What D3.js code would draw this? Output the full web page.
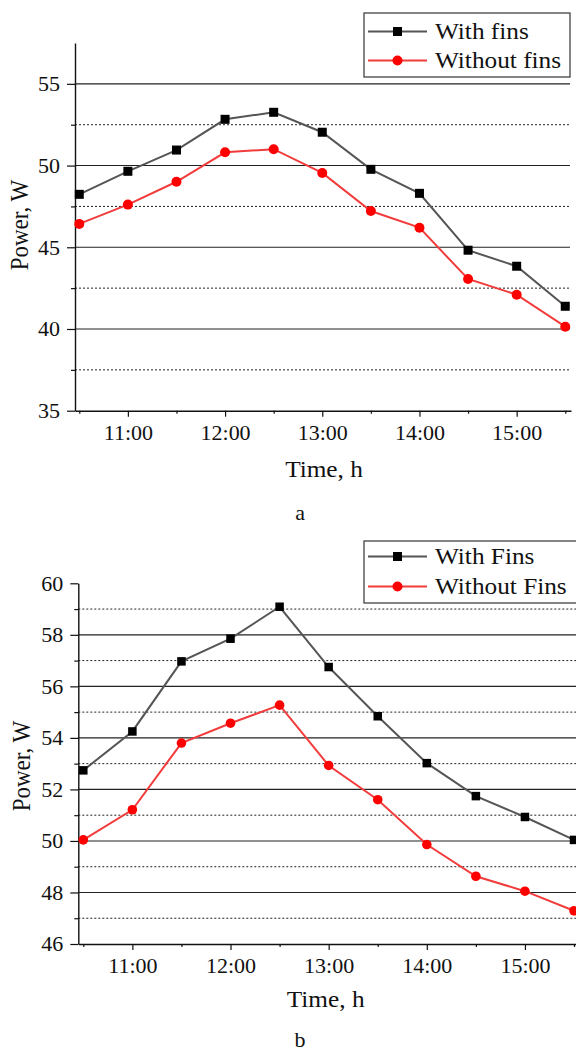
<!DOCTYPE html>
<html><head><meta charset="utf-8">
<script src="https://cdn.jsdelivr.net/npm/d3@7"></script>
<style>
html,body{margin:0;padding:0;background:#fff;}
svg{display:block;}
text{font-family:"Liberation Serif","Times New Roman",serif;fill:#111;}
</style>
</head><body>
<svg id="c" width="576" height="1053" font-family="Liberation Serif, serif"></svg>
<script>
// ---------- data ----------
const times = [10.5, 11, 11.5, 12, 12.5, 13, 13.5, 14, 14.5, 15, 15.5];
const majorTimeTicks = [11, 12, 13, 14, 15];
const minorTimeTicks = [10.5, 11.5, 12.5, 13.5, 14.5, 15.5];

const withFinsA    = [48.24, 49.65, 50.95, 52.83, 53.26, 52.04, 49.77, 48.30, 44.82, 43.84, 41.39];
const withoutFinsA = [46.43, 47.61, 49.01, 50.81, 51.00, 49.55, 47.22, 46.20, 43.06, 42.10, 40.14];
const withFinsB    = [52.74, 54.25, 56.97, 57.85, 59.09, 56.75, 54.84, 53.02, 51.74, 50.93, 50.04];
const withoutFinsB = [50.04, 51.21, 53.80, 54.57, 55.27, 52.93, 51.60, 49.86, 48.63, 48.05, 47.29];

const yMajorA = [35, 40, 45, 50, 55];
const yMinorA = [37.5, 42.5, 47.5, 52.5];
const yMajorB = [46, 48, 50, 52, 54, 56, 58, 60];
const yMinorB = [47, 49, 51, 53, 55, 57, 59];

const legendA = ["With fins", "Without fins"];
const legendB = ["With Fins", "Without Fins"];
const panelLabels = ["a", "b"];
const xTitle = "Time, h";
const yTitle = "Power, W";

// ---------- layout ----------
const SX = 1.1; // horizontal text stretch of the source picture
const FONT = "Liberation Serif, Times New Roman, serif";
const svg = d3.select("#c");

const panels = [
  {
    w: withFinsA, wo: withoutFinsA, legend: legendA, label: panelLabels[0],
    yMajor: yMajorA, yMinor: yMinorA,
    x: d3.scaleLinear().domain([10.456, 15.559]).range([75, 571]),
    y: d3.scaleLinear().domain([35, 57.5]).range([410.7, 43]),
    gridRight: 570,
    sq: 9, r: 5,
    legendBox: [364, 13, 206, 64], legendRows: [31.5, 60.5],
    yTitlePos: [28, 225], xTitleY: 477, labelY: 520, tickLabelY: 29
  },
  {
    w: withFinsB, wo: withoutFinsB, legend: legendB, label: panelLabels[1],
    yMajor: yMajorB, yMinor: yMinorB,
    x: d3.scaleLinear().domain([10.449, 15.561]).range([78.3, 580]),
    y: d3.scaleLinear().domain([46, 60]).range([944, 583.3]),
    gridRight: 580,
    sq: 8.5, r: 4.8,
    legendBox: [364, 541, 220, 62], legendRows: [556.5, 586.5],
    yTitlePos: [30, 766], xTitleY: 1007, labelY: 1047, tickLabelY: 29
  }
];

function stretch(sel, sx) {
  sel.each(function() {
    const t = d3.select(this);
    const x = +t.attr("x") || 0;
    t.attr("x", x / sx).attr("transform", `scale(${sx},1)`);
  });
}

panels.forEach(p => {
  const g = svg.append("g");
  const x = p.x, y = p.y;
  const [x0] = x.range();

  // grid lines
  g.append("g").selectAll("line").data(p.yMajor.filter(v => v !== y.domain()[0] && v !== y.domain()[1]))
    .join("line")
    .attr("x1", x0).attr("x2", p.gridRight)
    .attr("y1", d => y(d)).attr("y2", d => y(d))
    .attr("stroke", "#222").attr("stroke-width", 1.1);
  g.append("g").selectAll("line").data(p.yMinor)
    .join("line")
    .attr("x1", x0).attr("x2", p.gridRight)
    .attr("y1", d => y(d)).attr("y2", d => y(d))
    .attr("stroke", "#222").attr("stroke-width", 1).attr("stroke-dasharray", "2,2");

  // axes
  const xAxis = g.append("g").attr("transform", `translate(0,${y.range()[0]})`)
    .call(d3.axisBottom(x).tickValues(majorTimeTicks).tickSize(6).tickSizeOuter(0)
      .tickFormat(d => d + ":00"));
  g.append("g").attr("transform", `translate(0,${y.range()[0]})`)
    .call(d3.axisBottom(x).tickValues(minorTimeTicks).tickSize(3).tickFormat(""))
    .call(s => s.select(".domain").remove());
  const yAxis = g.append("g").attr("transform", `translate(${x0},0)`)
    .call(d3.axisLeft(y).tickValues(p.yMajor).tickSize(8).tickSizeOuter(0));
  g.append("g").attr("transform", `translate(${x0},0)`)
    .call(d3.axisLeft(y).tickValues(p.yMinor).tickSize(4).tickFormat(""))
    .call(s => s.select(".domain").remove());

  [xAxis, yAxis].forEach(a => a.attr("font-family", FONT).attr("font-size", 20));
  g.selectAll(".domain").attr("stroke", "#111").attr("stroke-width", 1.4);
  g.selectAll(".tick line").attr("stroke", "#111").attr("stroke-width", 1.2);
  g.selectAll(".tick text").attr("fill", "#111").attr("font-family", FONT);

  xAxis.selectAll("text").attr("font-size", 20).attr("y", p.tickLabelY).attr("dy", null);
  stretch(xAxis.selectAll("text"), SX);
  yAxis.selectAll("text").attr("font-size", 20).attr("x", -15).attr("dy", "0.34em");
  stretch(yAxis.selectAll("text"), SX);

  // series
  const line = d3.line().x((d, i) => x(times[i])).y(d => y(d));
  g.append("path").datum(p.w).attr("d", line)
    .attr("fill", "none").attr("stroke", "#555").attr("stroke-width", 2);
  g.append("path").datum(p.wo).attr("d", line)
    .attr("fill", "none").attr("stroke", "#f23c3c").attr("stroke-width", 2);
  g.append("g").selectAll("rect").data(p.w).join("rect")
    .attr("x", (d, i) => x(times[i]) - p.sq / 2).attr("y", d => y(d) - p.sq / 2)
    .attr("width", p.sq).attr("height", p.sq).attr("fill", "#000");
  g.append("g").selectAll("circle").data(p.wo).join("circle")
    .attr("cx", (d, i) => x(times[i])).attr("cy", d => y(d)).attr("r", p.r)
    .attr("fill", "#ff0000");

  // titles
  g.append("text")
    .attr("transform", `translate(${p.yTitlePos[0]},${p.yTitlePos[1]}) scale(${SX},1) rotate(-90)`)
    .attr("text-anchor", "middle").attr("font-size", 23).attr("font-family", FONT).text(yTitle);
  g.append("text")
    .attr("transform", `translate(${(x0 + 571) / 2 + 1},${p.xTitleY}) scale(${SX},1)`)
    .attr("text-anchor", "middle").attr("font-size", 23).attr("font-family", FONT).text(xTitle);
  g.append("text")
    .attr("transform", `translate(300,${p.labelY}) scale(${SX},1)`)
    .attr("text-anchor", "middle").attr("font-size", 20).attr("font-family", FONT).text(p.label);

  // legend
  const [lx, ly, lw, lh] = p.legendBox;
  const lg = g.append("g");
  lg.append("rect").attr("x", lx).attr("y", ly).attr("width", lw).attr("height", lh)
    .attr("fill", "#fff").attr("stroke", "#333").attr("stroke-width", 1.2);
  const items = [
    { name: p.legend[0], color: "#555", marker: "sq" },
    { name: p.legend[1], color: "#f23c3c", marker: "ci" }
  ];
  items.forEach((it, i) => {
    const cy = p.legendRows[i];
    lg.append("line").attr("x1", lx + 4).attr("x2", lx + 63).attr("y1", cy).attr("y2", cy)
      .attr("stroke", it.color).attr("stroke-width", 2);
    if (it.marker === "sq") {
      lg.append("rect").attr("x", lx + 33.5 - 4.5).attr("y", cy - 4.5).attr("width", 9).attr("height", 9).attr("fill", "#000");
    } else {
      lg.append("circle").attr("cx", lx + 33.5).attr("cy", cy).attr("r", 5).attr("fill", "#ff0000");
    }
    lg.append("text").attr("transform", `translate(${lx + 71},${cy + 7.5}) scale(${SX},1)`)
      .attr("font-size", 23).attr("font-family", FONT).text(it.name);
  });
});
</script>
</body></html>
